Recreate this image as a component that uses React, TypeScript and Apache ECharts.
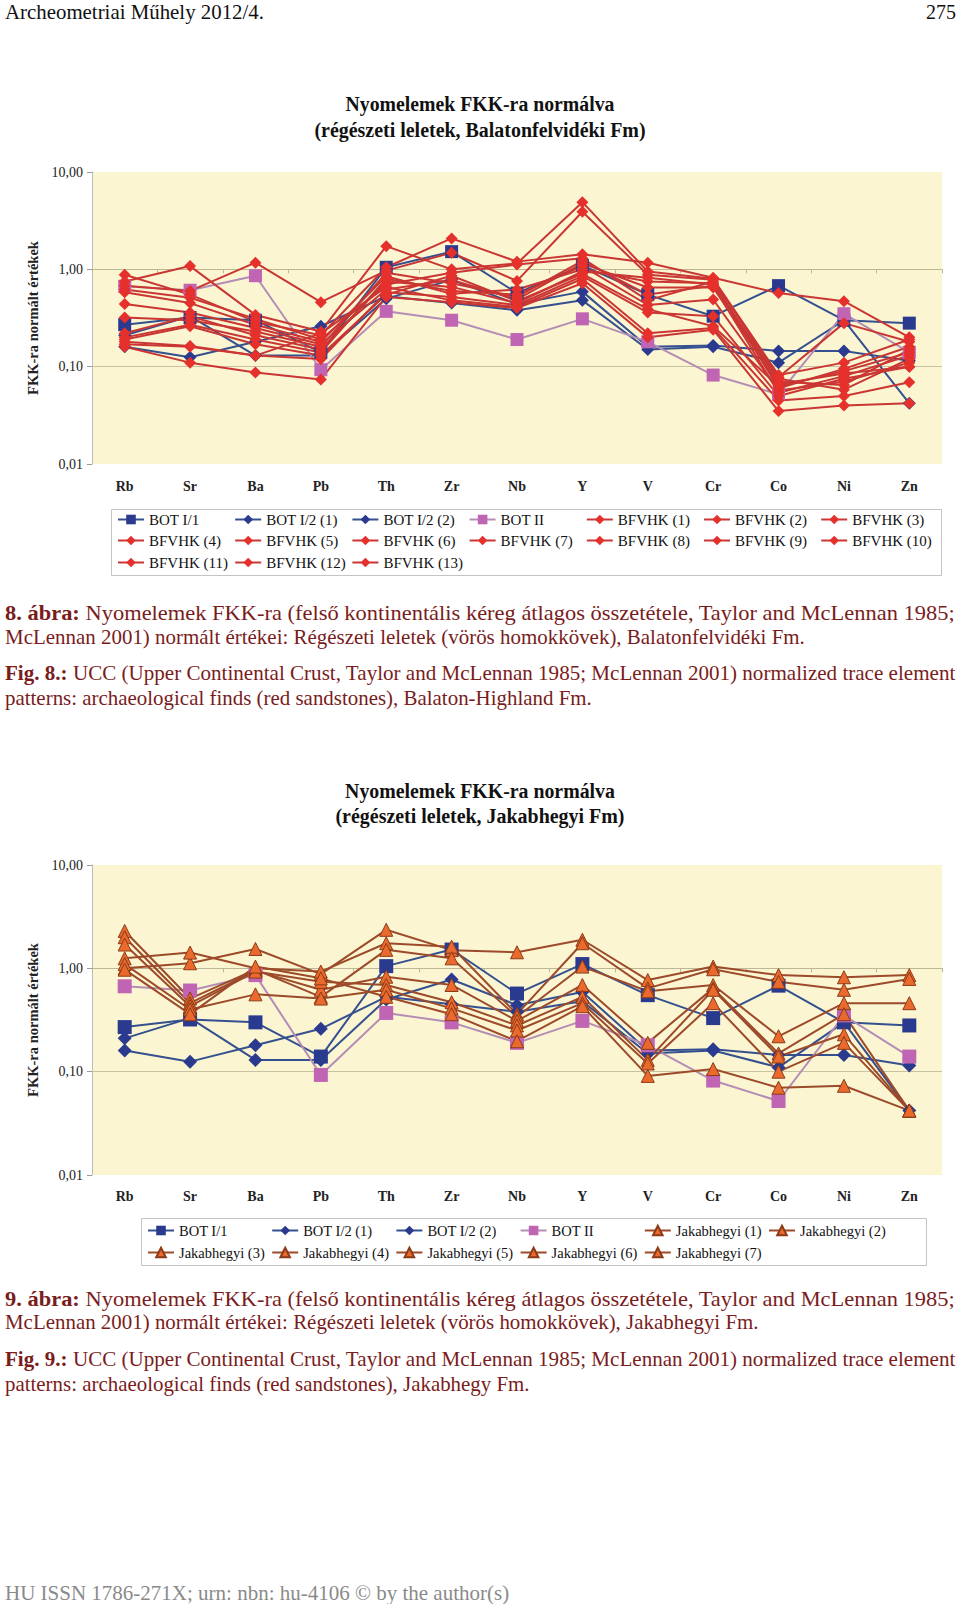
import React, { useEffect, useRef } from 'react';
import * as echarts from 'echarts';

const FONT = 'Liberation Serif, Times New Roman, serif';

// ---------- data ----------
const ELEMENTS = ['Rb', 'Sr', 'Ba', 'Pb', 'Th', 'Zr', 'Nb', 'Y', 'V', 'Cr', 'Co', 'Ni', 'Zn'];

const BOT_I_1 = [0.27, 0.32, 0.30, 0.14, 1.05, 1.52, 0.57, 1.10, 0.55, 0.33, 0.68, 0.30, 0.28];
const BOT_I_2_1 = [0.21, 0.33, 0.13, 0.13, 0.50, 0.78, 0.44, 0.59, 0.16, 0.165, 0.145, 0.145, 0.115];
const BOT_I_2_2 = [0.16, 0.125, 0.18, 0.26, 0.53, 0.45, 0.38, 0.48, 0.15, 0.16, 0.11, 0.30, 0.042];
const BOT_II = [0.67, 0.61, 0.86, 0.093, 0.37, 0.30, 0.19, 0.31, 0.18, 0.082, 0.052, 0.35, 0.14];

const BFVHK_1 = [0.88, 0.55, 0.29, 0.21, 1.05, 2.08, 1.20, 1.43, 1.17, 0.82, 0.57, 0.47, 0.20];
const BFVHK_2 = [0.75, 1.08, 0.34, 0.23, 1.73, 1.00, 1.15, 4.90, 0.95, 0.80, 0.082, 0.11, 0.19];
const BFVHK_3 = [0.68, 0.60, 1.17, 0.46, 0.97, 1.48, 0.76, 3.90, 0.88, 0.78, 0.078, 0.28, 0.18];
const BFVHK_4 = [0.62, 0.51, 0.31, 0.19, 0.70, 0.92, 1.12, 1.30, 0.48, 0.75, 0.060, 0.095, 0.16];
const BFVHK_5 = [0.58, 0.45, 0.27, 0.18, 0.85, 0.56, 0.62, 1.00, 0.75, 0.72, 0.070, 0.065, 0.15];
const BFVHK_6 = [0.44, 0.36, 0.25, 0.17, 0.62, 0.78, 0.49, 1.15, 0.65, 0.65, 0.066, 0.085, 0.10];
const BFVHK_7 = [0.32, 0.30, 0.23, 0.16, 0.92, 0.72, 0.52, 1.22, 0.55, 0.68, 0.054, 0.080, 0.13];
const BFVHK_8 = [0.22, 0.33, 0.21, 0.15, 0.75, 0.66, 0.45, 0.95, 0.82, 0.70, 0.075, 0.058, 0.12];
const BFVHK_9 = [0.20, 0.27, 0.19, 0.14, 0.80, 0.60, 0.55, 1.08, 0.43, 0.49, 0.057, 0.070, 0.11];
const BFVHK_10 = [0.19, 0.26, 0.17, 0.13, 0.55, 0.86, 0.47, 0.90, 0.39, 0.26, 0.063, 0.090, 0.14];
const BFVHK_11 = [0.18, 0.163, 0.13, 0.12, 0.58, 0.52, 0.43, 0.85, 0.36, 0.33, 0.050, 0.075, 0.10];
const BFVHK_12 = [0.17, 0.16, 0.13, 0.22, 0.66, 0.48, 0.41, 0.80, 0.22, 0.25, 0.045, 0.050, 0.069];
const BFVHK_13 = [0.16, 0.11, 0.087, 0.074, 0.52, 0.46, 0.40, 0.72, 0.20, 0.24, 0.035, 0.040, 0.042];

const JAK_1 = [1.00, 1.12, 1.54, 0.88, 2.36, 1.50, 1.43, 1.89, 0.77, 1.04, 0.86, 0.82, 0.86];
const JAK_2 = [1.25, 1.42, 1.00, 0.93, 1.75, 1.62, 0.36, 1.75, 0.64, 0.98, 0.74, 0.62, 0.79];
const JAK_3 = [2.30, 0.51, 0.97, 0.53, 1.51, 1.25, 0.34, 1.04, 0.60, 0.69, 0.22, 0.46, 0.46];
const JAK_4 = [2.00, 0.46, 0.95, 0.62, 0.83, 0.69, 0.31, 0.69, 0.19, 0.64, 0.15, 0.36, 0.042];
const JAK_5 = [1.70, 0.43, 0.93, 0.74, 0.69, 0.47, 0.28, 0.53, 0.13, 0.62, 0.14, 0.23, 0.042];
const JAK_6 = [1.10, 0.40, 0.56, 0.51, 0.62, 0.41, 0.25, 0.46, 0.12, 0.46, 0.10, 0.19, 0.042];
const JAK_7 = [0.97, 0.36, 1.04, 0.80, 0.53, 0.36, 0.197, 0.43, 0.091, 0.106, 0.07, 0.073, 0.042];

const BOT_SERIES = [
  { name: 'BOT I/1', data: BOT_I_1, kind: 'botSquare' },
  { name: 'BOT I/2 (1)', data: BOT_I_2_1, kind: 'botDiamond' },
  { name: 'BOT I/2 (2)', data: BOT_I_2_2, kind: 'botDiamond' },
  { name: 'BOT II', data: BOT_II, kind: 'botPink' },
];
const FIG8_SERIES = [
  ...BOT_SERIES,
  { name: 'BFVHK (1)', data: BFVHK_1, kind: 'bfvhk' },
  { name: 'BFVHK (2)', data: BFVHK_2, kind: 'bfvhk' },
  { name: 'BFVHK (3)', data: BFVHK_3, kind: 'bfvhk' },
  { name: 'BFVHK (4)', data: BFVHK_4, kind: 'bfvhk' },
  { name: 'BFVHK (5)', data: BFVHK_5, kind: 'bfvhk' },
  { name: 'BFVHK (6)', data: BFVHK_6, kind: 'bfvhk' },
  { name: 'BFVHK (7)', data: BFVHK_7, kind: 'bfvhk' },
  { name: 'BFVHK (8)', data: BFVHK_8, kind: 'bfvhk' },
  { name: 'BFVHK (9)', data: BFVHK_9, kind: 'bfvhk' },
  { name: 'BFVHK (10)', data: BFVHK_10, kind: 'bfvhk' },
  { name: 'BFVHK (11)', data: BFVHK_11, kind: 'bfvhk' },
  { name: 'BFVHK (12)', data: BFVHK_12, kind: 'bfvhk' },
  { name: 'BFVHK (13)', data: BFVHK_13, kind: 'bfvhk' },
];
const FIG9_SERIES = [
  ...BOT_SERIES,
  { name: 'Jakabhegyi (1)', data: JAK_1, kind: 'jak' },
  { name: 'Jakabhegyi (2)', data: JAK_2, kind: 'jak' },
  { name: 'Jakabhegyi (3)', data: JAK_3, kind: 'jak' },
  { name: 'Jakabhegyi (4)', data: JAK_4, kind: 'jak' },
  { name: 'Jakabhegyi (5)', data: JAK_5, kind: 'jak' },
  { name: 'Jakabhegyi (6)', data: JAK_6, kind: 'jak' },
  { name: 'Jakabhegyi (7)', data: JAK_7, kind: 'jak' },
];

const Y_NAME = 'FKK-ra normált értékek';

// ---------- styles / layout ----------
const STYLE: Record<string, any> = {
  botSquare: { symbol: 'rect', size: [13, 14], fill: '#2A3A8E', border: '#2A3A8E', bw: 0, line: '#34508F' },
  botDiamond: { symbol: 'diamond', size: [13, 14], fill: '#2A3A8E', border: '#2A3A8E', bw: 0, line: '#34508F' },
  botPink: { symbol: 'rect', size: [13, 14], fill: '#C064B4', border: '#C064B4', bw: 0, line: '#B48DB6' },
  bfvhk: { symbol: 'diamond', size: [12, 12], fill: '#E5302C', border: '#E5302C', bw: 0, line: '#C93633' },
  jak: { symbol: 'triangle', size: [13, 13], fill: '#EA6A2E', border: '#8C3A17', bw: 1, line: '#9C4A2A' },
};

const GRIDS = [
  { left: 92, top: 172, width: 850, height: 292, labelMargin: 15 },
  { left: 92, top: 865, width: 850, height: 310, labelMargin: 14 },
];

const LEGENDS = [
  { series: FIG8_SERIES, x0: 117, dx: 117.2, cols: 7, rows: [520, 541, 563], fontSize: 15, box: [111, 509, 830, 66] },
  { series: FIG9_SERIES, x0: 147, dx: 124.2, cols: 6, rows: [1231, 1253], fontSize: 14.5, box: [141, 1218, 785, 47] },
];

const MAROON = '#7A1C1C';
const TEXT_LINES: any[] = [
  { text: 'Archeometriai Műhely 2012/4.', x: 5, y: 12, w: 259, size: 21, color: '#111', align: 'left' },
  { text: '275', x: 956, y: 12, w: 30, size: 21, color: '#111', align: 'right' },
  { text: 'Nyomelemek FKK-ra normálva', x: 480, y: 104, w: 269, size: 20, color: '#111', align: 'center', allBold: true },
  { text: '(régészeti leletek, Balatonfelvidéki Fm)', x: 480, y: 130, w: 331, size: 20, color: '#111', align: 'center', allBold: true },
  { bold: '8. ábra:', text: ' Nyomelemek FKK-ra (felső kontinentális kéreg átlagos összetétele, Taylor and McLennan 1985;', x: 5, y: 613, w: 951, size: 21, color: MAROON, align: 'left' },
  { text: 'McLennan 2001) normált értékei: Régészeti leletek (vörös homokkövek), Balatonfelvidéki Fm.', x: 5, y: 637, w: 800, size: 21, color: MAROON, align: 'left' },
  { bold: 'Fig. 8.:', text: ' UCC (Upper Continental Crust, Taylor and McLennan 1985; McLennan 2001) normalized trace element', x: 5, y: 673, w: 951, size: 21, color: MAROON, align: 'left' },
  { text: 'patterns: archaeological finds (red sandstones), Balaton-Highland Fm.', x: 5, y: 698, w: 587, size: 21, color: MAROON, align: 'left' },
  { text: 'Nyomelemek FKK-ra normálva', x: 480, y: 791, w: 270, size: 20, color: '#111', align: 'center', allBold: true },
  { text: '(régészeti leletek, Jakabhegyi Fm)', x: 480, y: 816, w: 289, size: 20, color: '#111', align: 'center', allBold: true },
  { bold: '9. ábra:', text: ' Nyomelemek FKK-ra (felső kontinentális kéreg átlagos összetétele, Taylor and McLennan 1985;', x: 5, y: 1299, w: 951, size: 21, color: MAROON, align: 'left' },
  { text: 'McLennan 2001) normált értékei: Régészeti leletek (vörös homokkövek), Jakabhegyi Fm.', x: 5, y: 1322, w: 754, size: 21, color: MAROON, align: 'left' },
  { bold: 'Fig. 9.:', text: ' UCC (Upper Continental Crust, Taylor and McLennan 1985; McLennan 2001) normalized trace element', x: 5, y: 1359, w: 951, size: 21, color: MAROON, align: 'left' },
  { text: 'patterns: archaeological finds (red sandstones), Jakabhegy Fm.', x: 5, y: 1384, w: 525, size: 21, color: MAROON, align: 'left' },
  { text: 'HU ISSN 1786-271X; urn: nbn: hu-4106 © by the author(s)', x: 5, y: 1593, w: 504, size: 21, color: '#8A8A8A', align: 'left' },
];

function measureWidth(text: string, font: string): number {
  const canvas = document.createElement('canvas');
  const ctx = canvas.getContext('2d');
  if (!ctx) return 0;
  ctx.font = font;
  return ctx.measureText(text).width;
}

function buildText(l: any) {
  const boldFont = `bold ${l.size}px ${FONT}`;
  const normFont = `${l.size}px ${FONT}`;
  let natural: number;
  if (l.allBold) natural = measureWidth(l.text, boldFont);
  else natural = (l.bold ? measureWidth(l.bold, boldFont) : 0) + measureWidth(l.text, normFont);
  const sx = natural > 0 ? l.w / natural : 1;
  const content = l.bold ? `{b|${l.bold}}${l.text}` : l.text;
  const style: any = {
    text: content,
    fill: l.color,
    fontFamily: FONT,
    fontSize: l.size,
    fontWeight: l.allBold ? 'bold' : 'normal',
    align: l.align,
    verticalAlign: 'middle',
  };
  if (l.bold) {
    style.rich = { b: { fontFamily: FONT, fontSize: l.size, fontWeight: 'bold', fill: l.color } };
  }
  return { type: 'text', x: l.x, y: l.y, scaleX: sx, silent: true, style };
}

function mkSeries(spec: any, chartIdx: number) {
  const st = STYLE[spec.kind];
  return {
    type: 'line',
    name: spec.name,
    xAxisIndex: chartIdx * 2,
    yAxisIndex: chartIdx,
    data: spec.data,
    symbol: st.symbol,
    symbolSize: st.size[chartIdx],
    showSymbol: true,
    lineStyle: { color: st.line, width: 2 },
    itemStyle: { color: st.fill, borderColor: st.border, borderWidth: st.bw },
    emphasis: { disabled: true },
    silent: true,
  };
}

export default function App() {
  const ref = useRef<HTMLDivElement>(null);

  useEffect(() => {
    if (!ref.current) return;
    const chart = echarts.init(ref.current, undefined, { renderer: 'svg' });

    const xAxis: any[] = [];
    const yAxis: any[] = [];
    GRIDS.forEach((g, i) => {
      xAxis.push({
        type: 'category',
        gridIndex: i,
        data: ELEMENTS,
        boundaryGap: true,
        axisLine: { show: false },
        axisTick: { show: false },
        splitLine: { show: false },
        axisLabel: {
          interval: 0,
          margin: g.labelMargin,
          fontFamily: FONT,
          fontWeight: 'bold',
          fontSize: 14,
          color: '#222',
        },
      });
      // horizontal axis crossing at 1,00 (Excel default for log scale)
      xAxis.push({
        type: 'category',
        gridIndex: i,
        data: ELEMENTS,
        boundaryGap: true,
        position: 'bottom',
        offset: -(g.height * 2) / 3,
        axisLine: { show: true, lineStyle: { color: '#BEB795', width: 1 } },
        axisTick: { show: true, interval: 0, length: 4, lineStyle: { color: '#BEB795' } },
        axisLabel: { show: false },
        splitLine: { show: false },
      });
      yAxis.push({
        type: 'log',
        logBase: 10,
        min: 0.01,
        max: 10,
        gridIndex: i,
        axisLine: { show: true, lineStyle: { color: '#BDBDBD' } },
        axisTick: { show: true, length: 5, lineStyle: { color: '#9A9A9A' } },
        axisLabel: {
          margin: 9,
          fontFamily: FONT,
          fontSize: 14,
          color: '#222',
          formatter: (v: number) => v.toFixed(2).replace('.', ','),
        },
        splitLine: {
          show: true,
          showMinLine: false,
          showMaxLine: false,
          lineStyle: { color: '#C9C2A2', width: 1 },
        },
        name: Y_NAME,
        nameLocation: 'middle',
        nameRotate: 90,
        nameGap: 51,
        nameTextStyle: { fontFamily: FONT, fontWeight: 'bold', fontSize: 14.5, color: '#222' },
      });
    });

    const legend: any[] = [];
    const graphic: any[] = [];
    LEGENDS.forEach((L) => {
      L.series.forEach((s: any, k: number) => {
        const col = k % L.cols;
        const row = Math.floor(k / L.cols);
        legend.push({
          data: [s.name],
          left: L.x0 + col * L.dx,
          top: L.rows[row] - 8,
          padding: 0,
          itemGap: 0,
          itemWidth: 26,
          itemHeight: 12,
          selectedMode: false,
          textStyle: { fontFamily: FONT, fontSize: L.fontSize, color: '#111' },
        });
      });
      const [bx, by, bw, bh] = L.box;
      graphic.push({
        type: 'rect',
        shape: { x: bx + 0.5, y: by + 0.5, width: bw, height: bh },
        style: { fill: 'none', stroke: '#C4C4C4', lineWidth: 1 },
        silent: true,
      });
    });
    TEXT_LINES.forEach((l) => graphic.push(buildText(l)));

    const series = [
      ...FIG8_SERIES.map((s) => mkSeries(s, 0)),
      ...FIG9_SERIES.map((s) => mkSeries(s, 1)),
    ];

    chart.setOption({
      animation: false,
      backgroundColor: '#ffffff',
      textStyle: { fontFamily: FONT },
      grid: GRIDS.map((g) => ({
        left: g.left,
        top: g.top,
        width: g.width,
        height: g.height,
        show: true,
        backgroundColor: '#FBF6D1',
        borderWidth: 0,
        containLabel: false,
      })),
      xAxis,
      yAxis,
      legend,
      graphic,
      series,
    });

    return () => chart.dispose();
  }, []);

  return (
    <div
      ref={ref}
      style={{ position: 'absolute', left: 0, top: 0, width: 960, height: 1604, background: '#fff' }}
    />
  );
}
